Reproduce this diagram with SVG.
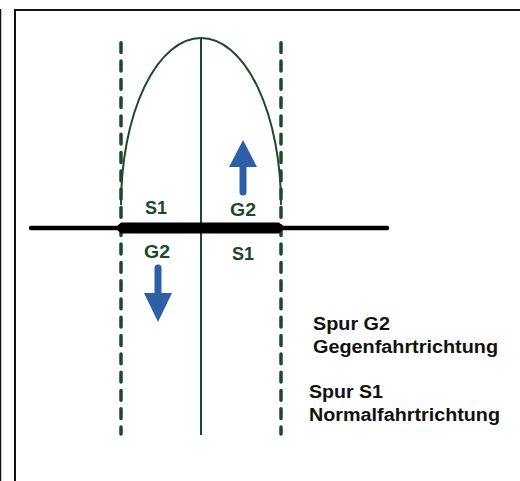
<svg xmlns="http://www.w3.org/2000/svg" width="520" height="481" viewBox="0 0 520 481">
<defs>
<style>
.frame{fill:none;stroke:#111;stroke-width:2}
.dash{fill:none;stroke:#1b4a2a;stroke-width:3.5;stroke-dasharray:9.8 8.5;stroke-linecap:round}
.green{fill:none;stroke:#1b4a2a;stroke-width:2}
.lbl{font-family:"Liberation Sans",Arial,sans-serif;font-weight:bold;font-size:18px;fill:#1b4a2a;text-anchor:middle}
.leg{font-family:"Liberation Sans",Arial,sans-serif;font-weight:bold;font-size:17.5px;fill:#111}
.blue{fill:#2d5fa9}
.shaft{stroke:#2d5fa9;stroke-width:7;stroke-linecap:round}
</style>
</defs>
<rect width="520" height="481" fill="#fff"/>
<g id="frame">
<line x1="0.5" y1="9" x2="0.5" y2="481" stroke="#111" stroke-width="1.5"/>
<path class="frame" d="M15,482 L15,10 L521,10"/>
</g>
<g id="connectors">
<line class="dash" x1="121" y1="42.8" x2="121" y2="434"/>
<line class="dash" x1="281" y1="42.8" x2="281" y2="434"/>
<line class="green" x1="201" y1="38" x2="201" y2="435"/>
<path class="green" stroke-width="2.8" d="M121,205 A80,167 0 0 1 281,205"/>
<line x1="31" y1="228" x2="387" y2="228" stroke="#000" stroke-width="4.5" stroke-linecap="round"/>
<path d="M115,228 L121,222.5 L279,222.5 L285,228 L279,233.5 L121,233.5 Z" fill="#000"/>
</g>
<g id="arrow-up">
<line class="shaft" x1="243" y1="165" x2="243" y2="192"/>
<polygon class="blue" points="229,167 243,140 257,167"/>
</g>
<g id="arrow-down">
<line class="shaft" x1="158" y1="268" x2="158" y2="295"/>
<polygon class="blue" points="144,293 158,322 172,293"/>
</g>
<g id="labels">
<text class="lbl" x="156" y="214" textLength="22" lengthAdjust="spacingAndGlyphs">S1</text>
<text class="lbl" x="243" y="216" textLength="26" lengthAdjust="spacingAndGlyphs">G2</text>
<text class="lbl" x="157" y="258" textLength="26" lengthAdjust="spacingAndGlyphs">G2</text>
<text class="lbl" x="243" y="260" textLength="22" lengthAdjust="spacingAndGlyphs">S1</text>
</g>
<g id="legend">
<text class="leg" x="313" y="329.5" textLength="77" lengthAdjust="spacingAndGlyphs">Spur G2</text>
<text class="leg" x="313" y="352.5" textLength="185" lengthAdjust="spacingAndGlyphs">Gegenfahrtrichtung</text>
<text class="leg" x="309" y="397.5" textLength="74" lengthAdjust="spacingAndGlyphs">Spur S1</text>
<text class="leg" x="309" y="420.5" textLength="191" lengthAdjust="spacingAndGlyphs">Normalfahrtrichtung</text>
</g>
</svg>
